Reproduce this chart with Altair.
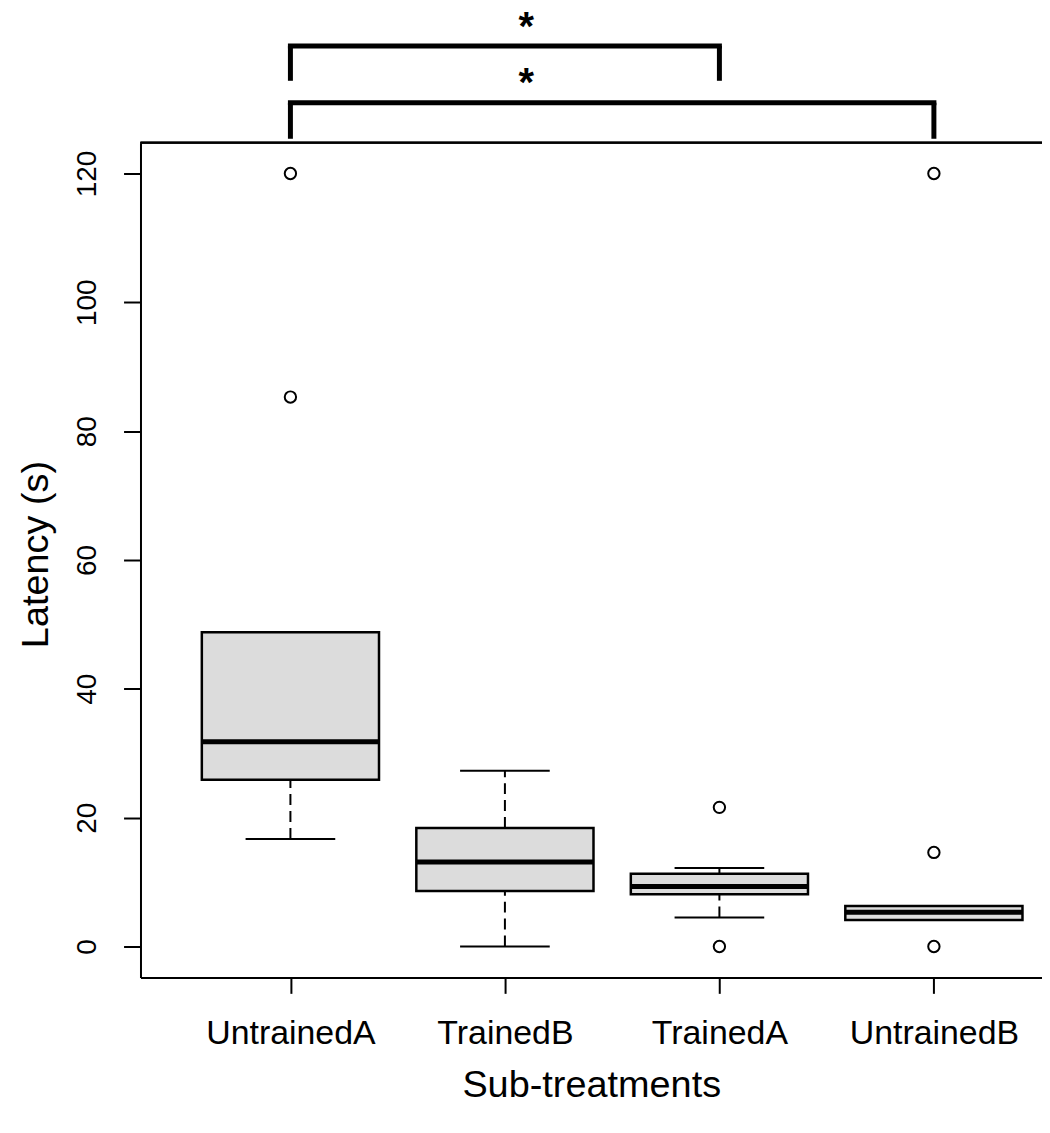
import json
import altair as alt
import pandas as pd

# ---- data ----
categories = ["UntrainedA", "TrainedB", "TrainedA", "UntrainedB"]
whisker_low = [16.7, 0.0, 4.5, 4.1]
q1 = [25.9, 8.6, 8.1, 4.1]
median = [31.8, 13.1, 9.3, 5.3]
q3 = [48.8, 18.4, 11.3, 6.3]
whisker_high = [48.8, 27.3, 12.2, 6.3]
outliers = [[85.3, 120.0], [], [0.0, 21.6], [0.0, 14.6, 120.0]]

# significance brackets (category from / to), annotation levels in y units
sig_from = ["UntrainedA", "UntrainedA"]
sig_to = ["TrainedA", "UntrainedB"]
sig_level = [139.8, 131.0]
sig_bottom = [134.4, 125.4]
sig_text = ["*", "*"]
sig_text_x = [2.1, 2.1]
sig_text_y = [140.8, 132.0]

y_ticks = [0, 20, 40, 60, 80, 100, 120]

FONT = "Liberation Sans"
W, H = 905, 838

pos = {c: i + 1 for i, c in enumerate(categories)}
box_df = pd.DataFrame({
    "cat": categories,
    "pos": [pos[c] for c in categories],
    "lo": whisker_low, "q1": q1, "med": median, "q3": q3, "hi": whisker_high,
})
out_df = pd.DataFrame(
    [{"cat": c, "pos": pos[c], "value": v} for c, vals in zip(categories, outliers) for v in vals]
)
sig_df = pd.DataFrame({
    "x_from": [pos[c] for c in sig_from],
    "x_to": [pos[c] for c in sig_to],
    "level": sig_level,
    "bottom": sig_bottom,
})
star_df = pd.DataFrame({"x": sig_text_x, "y": sig_text_y, "t": sig_text})

xscale = alt.Scale(domain=[0.301, 4.504], nice=False, zero=False)
yscale = alt.Scale(domain=[-4.8, 124.8], nice=False, zero=False)

label_expr = json.dumps(categories) + "[datum.value - 1]"

x_axis = alt.Axis(
    values=[1, 2, 3, 4], labelExpr=label_expr, grid=False,
    domainColor="black", domainWidth=2, tickColor="black", tickWidth=2, tickSize=16,
    labelFont=FONT, labelFontSize=34, labelColor="black", labelPadding=23,
    labelAngle=0, labelAlign="center", labelBaseline="top",
    title="Sub-treatments", titleFont=FONT, titleFontSize=38, titleFontWeight="normal",
    titleColor="black", titlePadding=17,
)
y_axis = alt.Axis(
    values=y_ticks, grid=False,
    domainColor="black", domainWidth=2, tickColor="black", tickWidth=2, tickSize=17,
    labelFont=FONT, labelFontSize=28, labelColor="black", labelPadding=28,
    labelAngle=270, labelAlign="center", labelBaseline="alphabetic",
    title="Latency (s)", titleFont=FONT, titleFontSize=38, titleFontWeight="normal",
    titleColor="black", titleAngle=270, titleAlign="center", titleBaseline="alphabetic",
    titleX=-93, titleY=413,
)


def X(field):
    return alt.X(field, type="quantitative", scale=xscale, axis=x_axis)


def Y(field):
    return alt.Y(field, type="quantitative", scale=yscale, axis=y_axis)


base = alt.Chart(box_df).transform_calculate(
    left="datum.pos - 0.413", right="datum.pos + 0.413",
    capl="datum.pos - 0.209", capr="datum.pos + 0.209",
)

whisk_up = base.mark_rule(color="black", strokeWidth=2, strokeDash=[11, 6]).encode(
    x=X("pos"), y=Y("q3"), y2="hi:Q",
)
whisk_lo = base.mark_rule(color="black", strokeWidth=2, strokeDash=[11, 6]).encode(
    x=X("pos"), y=Y("lo"), y2="q1:Q",
)
cap_hi = base.mark_rule(color="black", strokeWidth=2).encode(
    x=X("capl"), x2="capr:Q", y=Y("hi"),
)
cap_lo = base.mark_rule(color="black", strokeWidth=2).encode(
    x=X("capl"), x2="capr:Q", y=Y("lo"),
)
box = base.mark_rect(fill="#dcdcdc", stroke="black", strokeWidth=2.5).encode(
    x=X("left"), x2="right:Q", y=Y("q1"), y2="q3:Q",
)
med = base.mark_rule(color="black", strokeWidth=5).encode(
    x=X("left"), x2="right:Q", y=Y("med"),
)
pts = alt.Chart(out_df).mark_point(
    shape="circle", filled=False, color="black", strokeWidth=2, size=130, opacity=1
).encode(x=X("pos"), y=Y("value"))

top_frame = alt.Chart(box_df).mark_rule(color="black", strokeWidth=2).encode(
    x=alt.value(0), x2=alt.value(W), y=alt.value(0)
)

br_h = alt.Chart(sig_df).mark_rule(color="black", strokeWidth=5, strokeCap="square").encode(
    x=X("x_from"), x2="x_to:Q", y=Y("level"),
)
br_l = alt.Chart(sig_df).mark_rule(color="black", strokeWidth=5).encode(
    x=X("x_from"), y=Y("bottom"), y2="level:Q",
)
br_r = alt.Chart(sig_df).mark_rule(color="black", strokeWidth=5).encode(
    x=X("x_to"), y=Y("bottom"), y2="level:Q",
)
stars = alt.Chart(star_df).mark_text(
    font=FONT, fontSize=40, fontWeight="bold", color="black", align="center",
    baseline="alphabetic"
).encode(x=X("x"), y=Y("y"), text="t:N")

chart = alt.layer(
    whisk_up, whisk_lo, cap_hi, cap_lo, box, med, pts, top_frame, br_h, br_l, br_r, stars
).properties(
    width=W, height=H,
    autosize=alt.AutoSizeParams(type="none"),
    padding={"left": 133, "top": 133, "right": 0, "bottom": 140},
    background="white",
).configure_view(strokeWidth=0)

chart.save("out.html", embed_options={"renderer": "svg", "actions": False})
